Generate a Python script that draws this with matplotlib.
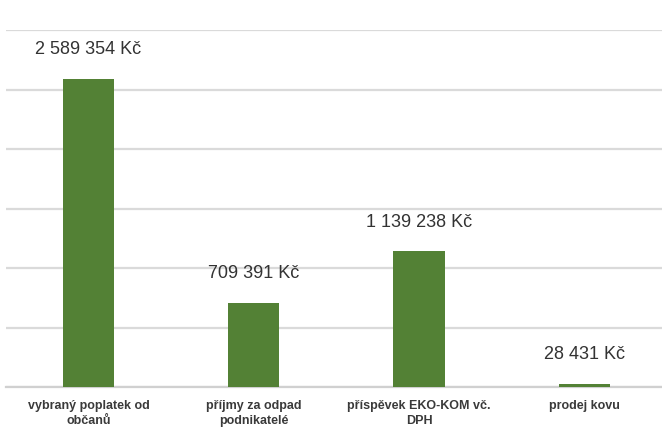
import matplotlib
matplotlib.use("Agg")
import matplotlib.pyplot as plt
import numpy as np

plt.rcParams['font.family'] = ['Liberation Sans', 'DejaVu Sans']

# data
categories = ["vybraný poplatek od\nobčanů", "příjmy za odpad\npodnikatelé",
              "příspěvek EKO-KOM vč.\nDPH", "prodej kovu"]
values = [2589354, 709391, 1139238, 28431]
value_labels = ["2 589 354 Kč", "709 391 Kč", "1 139 238 Kč", "28 431 Kč"]

fig = plt.figure(figsize=(6.62, 4.32), dpi=100)
ax = fig.add_axes([5.8 / 662, 1 - 387 / 432, 661.2 / 662, 357 / 432])

x = np.arange(len(categories))
bars = ax.bar(x, values, width=0.31, color="#538135", zorder=3)

ax.set_xlim(-0.5, len(categories) - 0.5)
ax.set_ylim(0, 3000000)
ax.set_yticks(np.arange(0, 3000001, 500000))
ax.yaxis.grid(True, color="#dadada", linewidth=1.6, zorder=0)
ax.set_yticklabels([])
ax.tick_params(axis="both", length=0)

for s in ["top", "right", "left"]:
    ax.spines[s].set_visible(False)
ax.spines["bottom"].set_color("#d0d0d0")
ax.spines["bottom"].set_linewidth(1.6)

ax.set_xticks(x)
ax.set_xticklabels(categories, fontsize=9, fontweight="bold", color="#3a3a3a",
                   linespacing=1.4)
ax.tick_params(axis="x", pad=9)

for xi, v, lab in zip(x, values, value_labels):
    ax.annotate(lab, (xi, v), xytext=(0, 21), textcoords="offset points",
                ha="center", va="center", fontsize=13, color="#333333")

fig.savefig("out.png", dpi=100)
